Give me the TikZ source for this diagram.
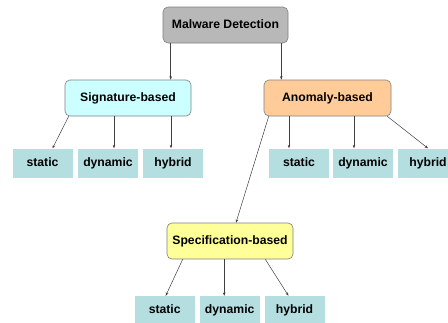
\documentclass[tikz,border=0pt]{standalone}
\usepackage{fontspec}
\setmainfont{Liberation Sans}
\usetikzlibrary{arrows.meta}
\definecolor{rootgray}{RGB}{184,184,184}
\definecolor{sigcyan}{RGB}{204,255,255}
\definecolor{anompeach}{RGB}{255,204,153}
\definecolor{specyellow}{RGB}{255,255,153}
\definecolor{leafteal}{RGB}{180,222,224}
\tikzset{
  catbox/.style={draw=black!50, rounded corners=5pt, line width=0.6pt,
    minimum width=126pt, minimum height=36pt, text height=8.8pt, text depth=2.4pt,
    font=\bfseries\fontsize{12.2}{14}\selectfont},
  leafbox/.style={fill=leafteal, minimum width=60pt, minimum height=29pt,
    text height=8.8pt, text depth=2.4pt, font=\bfseries\fontsize{12.2}{14}\selectfont},
  arr/.style={-{Stealth[length=3.5pt,width=2.6pt]}, draw=black!75, line width=0.5pt}
}

\begin{document}
\begin{tikzpicture}[x=1pt,y=-1pt]
			%%%%% START %%%%%
			\useasboundingbox (0,0) rectangle (448,322);
			
			\node[catbox, fill=rootgray, minimum width=125pt] (root) at (225.5, 25) {Malware Detection};
			\node[catbox, fill=sigcyan] (sig) at (128, 98) {Signature-based};
			\node[catbox, fill=anompeach, minimum width=127pt] (anom) at (327.5, 98) {Anomaly-based};
			\node[catbox, fill=specyellow] (spec) at (230, 241) {Specification-based};
			
			\node[leafbox] (sigstatic) at (42.5, 163) {static};
			\node[leafbox] (sigdyn) at (108, 163) {dynamic};
			\node[leafbox] (sighyb) at (173, 163) {hybrid};
			
			\node[leafbox] (anomstatic) at (299, 163) {static};
			\node[leafbox] (anomdyn) at (363, 163) {dynamic};
			\node[leafbox] (anomhyb) at (428, 163) {hybrid};
			
			\node[leafbox] (specstatic) at (164.7, 310.5) {static};
			\node[leafbox] (specdyn) at (229.7, 310.5) {dynamic};
			\node[leafbox] (spechyb) at (294.5, 310.5) {hybrid};
			
			\draw[arr] ([xshift=8pt]root.south west) -- ([xshift=8pt]root.south west |- sig.north);
			\draw[arr] ([xshift=-7pt]root.south east) -- ([xshift=-7pt]root.south east |- anom.north);
			
			\draw[arr] ([xshift=4pt]sig.south west) -- ([xshift=10pt]sigstatic.north);
			\draw[arr] ([xshift=6pt]sigdyn.north |- sig.south) -- ([xshift=6pt]sigdyn.north);
			\draw[arr] ([xshift=-2pt]sighyb.north |- sig.south) -- ([xshift=-2pt]sighyb.north);
			
			\draw[arr] ([xshift=-10pt]anomstatic.north |- anom.south) -- ([xshift=-10pt]anomstatic.north);
			\draw[arr] ([xshift=-9pt]anomdyn.north |- anom.south) -- ([xshift=-9pt]anomdyn.north);
			\draw[arr] ([xshift=-4pt]anom.south east) -- (anomhyb.north);
			\draw[arr] ([xshift=5pt]anom.south west) -- ([xshift=6pt]spec.north);
			
			\draw[arr] ([xshift=16pt]spec.south west) -- ([xshift=1pt]specstatic.north);
			\draw[arr] ([xshift=-5.5pt]specdyn.north |- spec.south) -- ([xshift=-5.5pt]specdyn.north);
			\draw[arr] ([xshift=-28pt]spec.south east) -- ([xshift=-6pt]spechyb.north);
			%%%%% END %%%%%
\end{tikzpicture}
\end{document}
